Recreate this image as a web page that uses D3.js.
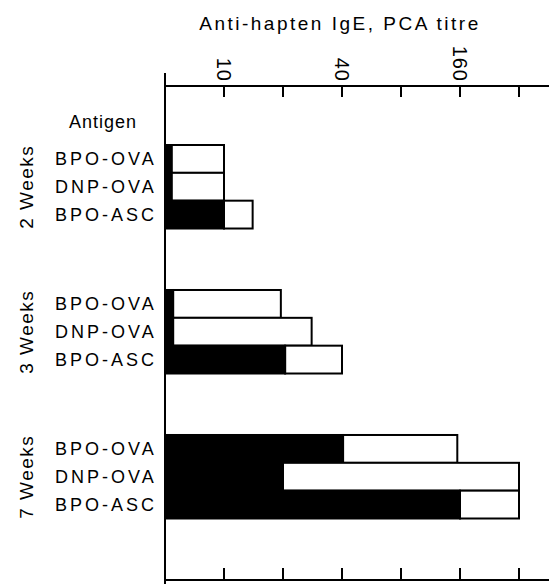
<!DOCTYPE html>
<html>
<head>
<meta charset="utf-8">
<script src="https://cdn.jsdelivr.net/npm/d3@7"></script>
<style>
  body { margin: 0; background: #fff; }
  svg text { font-family: "Liberation Sans", Arial, sans-serif; fill: #000; }
</style>
</head>
<body>
<svg id="chart" width="549" height="584"></svg>
<script>
// weeks after immunisation, antigens used
var weeks = ["2 Weeks", "3 Weeks", "7 Weeks"];
var antigens = ["BPO-OVA", "DNP-OVA", "BPO-ASC"];
// PCA titre, black part (lower value) and full bar (upper value)
var blackVals = [[5.4, 5.4, 10], [5.5, 5.5, 20.5], [40.5, 20, 160]];
var totalVals = [[10, 10, 14], [19.5, 28, 40], [155, 320, 320]];
var tickVals = [10, 20, 40, 80, 160, 320];
var tickLabels = {10: "10", 40: "40", 160: "160"};

var svg = d3.select("#chart");
var axisX = 165, topY = 86, bottomY = 580;

var x = d3.scaleLog().base(2).domain([5, 320]).range([axisX, 519]);

var yGroup = d3.scaleBand().domain(weeks).range([145, 518.5]).paddingInner(0.424).paddingOuter(0);
var yRow = d3.scaleBand().domain(antigens).range([0, yGroup.bandwidth()]);

// axes lines
svg.append("line").attr("x1", axisX).attr("x2", axisX).attr("y1", 73).attr("y2", 584)
  .attr("stroke", "#000").attr("stroke-width", 2);
svg.append("line").attr("x1", axisX).attr("x2", 549).attr("y1", topY).attr("y2", topY)
  .attr("stroke", "#000").attr("stroke-width", 2);
svg.append("line").attr("x1", axisX).attr("x2", 549).attr("y1", bottomY).attr("y2", bottomY)
  .attr("stroke", "#000").attr("stroke-width", 2);

// ticks, top pointing down and bottom pointing up
svg.selectAll(".ttick").data(tickVals).enter().append("line")
  .attr("x1", function(d){ return x(d); }).attr("x2", function(d){ return x(d); })
  .attr("y1", topY).attr("y2", topY + 11)
  .attr("stroke", "#000").attr("stroke-width", 2);
svg.selectAll(".btick").data(tickVals).enter().append("line")
  .attr("x1", function(d){ return x(d); }).attr("x2", function(d){ return x(d); })
  .attr("y1", bottomY).attr("y2", bottomY - 12)
  .attr("stroke", "#000").attr("stroke-width", 2);

// rotated tick labels
svg.selectAll(".tlab").data(tickVals.filter(function(d){ return tickLabels[d]; })).enter().append("text")
  .attr("transform", function(d){ return "translate(" + x(d) + ",82) rotate(90)"; })
  .attr("text-anchor", "end")
  .attr("dy", "0.35em")
  .style("font-size", "20px").style("letter-spacing", "1px")
  .text(function(d){ return tickLabels[d]; });

svg.append("text").attr("x", 340).attr("y", 29.5).attr("text-anchor", "middle")
  .style("font-size", "19px").style("letter-spacing", "2.5px")
  .text("Anti-hapten IgE, PCA titre");

svg.append("text").attr("x", 103).attr("y", 128).attr("text-anchor", "middle")
  .style("font-size", "18px").style("letter-spacing", "1px")
  .text("Antigen");

weeks.forEach(function(w, gi) {
  var g = svg.append("g").attr("transform", "translate(0," + yGroup(w) + ")");

  g.append("text")
    .attr("transform", "translate(33," + (yGroup.bandwidth() / 2) + ") rotate(-90)")
    .attr("text-anchor", "middle")
    .style("font-size", "19px").style("letter-spacing", "1.5px")
    .text(w);

  antigens.forEach(function(a, ai) {
    var y0 = yRow(a), h = yRow.bandwidth();
    g.append("rect")
      .attr("x", x(blackVals[gi][ai])).attr("y", y0)
      .attr("width", x(totalVals[gi][ai]) - x(blackVals[gi][ai])).attr("height", h)
      .attr("fill", "#fff").attr("stroke", "#000").attr("stroke-width", 2);
    g.append("rect")
      .attr("x", axisX).attr("y", y0)
      .attr("width", x(blackVals[gi][ai]) - axisX).attr("height", h)
      .attr("fill", "#000").attr("stroke", "#000").attr("stroke-width", 2);
    g.append("text")
      .attr("x", 55).attr("y", y0 + h / 2).attr("dy", "0.36em")
      .style("font-size", "18px").style("letter-spacing", "3px")
      .text(a);
  });
});
</script>
</body>
</html>
